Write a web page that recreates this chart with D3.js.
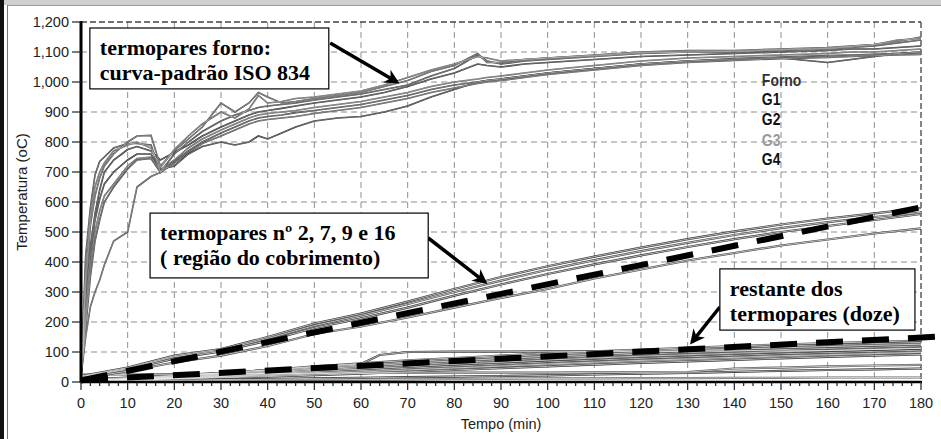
<!DOCTYPE html>
<html>
<head>
<meta charset="utf-8">
<script src="https://cdn.jsdelivr.net/npm/d3@7"></script>
<style>
body { margin: 0; background: #fff; }
svg { display: block; }
</style>
</head>
<body>
<script>
// tempos (min) e temperaturas (oC)
const tF = [0, 1, 2, 3, 4, 5, 7, 10, 12, 15, 17, 20, 23, 26, 30, 33, 36, 38, 40, 43, 46, 50, 55, 60, 65, 70, 75, 80, 85, 87, 90, 95, 100, 110, 120, 130, 140, 150, 160, 165, 170, 175, 180];
const forno = [
  [20, 420, 580, 690, 735, 750, 780, 795, 795, 790, 700, 760, 800, 835, 870, 890, 905, 915, 920, 925, 930, 940, 950, 960, 975, 990, 1020, 1045, 1090, 1070, 1060, 1070, 1075, 1085, 1095, 1100, 1100, 1105, 1110, 1115, 1120, 1130, 1140],
  [20, 300, 520, 620, 680, 720, 760, 800, 820, 822, 720, 770, 810, 850, 930, 900, 930, 965, 950, 930, 935, 945, 955, 965, 985, 1005, 1035, 1055, 1095, 1065, 1065, 1075, 1080, 1090, 1100, 1105, 1105, 1110, 1115, 1120, 1125, 1135, 1150],
  [20, 250, 450, 560, 640, 700, 740, 775, 785, 770, 740, 765, 790, 820, 850, 870, 890, 900, 905, 912, 920, 930, 940, 950, 965, 985, 1010, 1030, 1060, 1055, 1050, 1060, 1065, 1075, 1085, 1090, 1095, 1100, 1105, 1110, 1110, 1115, 1120],
  [20, 200, 380, 500, 570, 620, 660, 720, 745, 750, 705, 740, 780, 810, 840, 860, 880, 890, 895, 900, 905, 915, 925, 935, 950, 965, 985, 1000, 1010, 1015, 1020, 1030, 1040, 1055, 1070, 1080, 1085, 1090, 1095, 1100, 1100, 1105, 1110],
  [20, 180, 350, 470, 540, 600, 650, 710, 740, 745, 700, 735, 770, 800, 830, 850, 870, 880, 885, 890, 898, 905, 915, 925, 940, 955, 975, 990, 1000, 1005, 1010, 1020, 1030, 1045, 1060, 1070, 1078, 1083, 1088, 1090, 1092, 1095, 1098],
  [20, 150, 250, 300, 340, 390, 470, 500, 650, 685, 698, 730, 765, 795, 820, 840, 860, 870, 875, 880, 885, 895, 905, 915, 930, 945, 965, 980, 995, 1000, 1005, 1015, 1025, 1040, 1055, 1065, 1072, 1078, 1082, 1085, 1088, 1090, 1092],
  [20, 220, 420, 540, 610, 660, 700, 740, 760, 760, 710, 720, 760, 785, 800, 790, 800, 820, 810, 830, 850, 870, 880, 885, 900, 920, 950, 975, 1000, 1005, 1010, 1020, 1030, 1045, 1060, 1070, 1075, 1080, 1065, 1075, 1085, 1095, 1100],
  [20, 350, 550, 650, 700, 730, 770, 790, 800, 780, 715, 775, 820, 860, 900, 880, 910, 955, 930, 935, 945, 950, 960, 970, 990, 1015, 1040, 1060, 1085, 1080, 1070, 1075, 1080, 1088, 1098, 1100, 1102, 1108, 1112, 1118, 1125, 1140, 1145]
];

const tM = [0, 10, 20, 30, 40, 50, 60, 70, 80, 90, 100, 110, 120, 130, 140, 150, 160, 170, 180];
const cobrimento = [
  [20, 48, 88, 110, 150, 195, 228, 268, 310, 350, 386, 418, 448, 476, 502, 525, 545, 562, 580],
  [18, 45, 84, 106, 145, 188, 222, 260, 300, 338, 374, 406, 436, 464, 490, 513, 533, 550, 565],
  [16, 42, 78, 102, 138, 180, 212, 248, 288, 325, 360, 392, 422, 450, 476, 500, 520, 540, 560],
  [12, 36, 65, 88, 120, 160, 185, 215, 248, 280, 310, 345, 375, 405, 430, 455, 475, 495, 512]
];

const tB = [0, 10, 20, 30, 40, 50, 60, 64, 70, 80, 90, 100, 110, 120, 130, 140, 150, 160, 170, 180];
const restante = [
  [8, 15, 22, 30, 40, 50, 60, 90, 100, 101, 101, 102, 102, 103, 103, 104, 104, 105, 108, 112],
  [5, 12, 20, 30, 40, 52, 62, 66, 72, 80, 88, 96, 102, 108, 114, 120, 125, 130, 134, 138],
  [5, 11, 18, 27, 37, 47, 57, 61, 67, 76, 84, 92, 98, 104, 110, 115, 120, 124, 128, 132],
  [4, 10, 16, 24, 33, 43, 52, 56, 62, 70, 78, 86, 92, 98, 104, 109, 114, 118, 122, 126],
  [4, 9, 15, 22, 30, 39, 48, 51, 57, 65, 72, 80, 87, 93, 98, 103, 108, 112, 116, 120],
  [3, 8, 13, 20, 27, 35, 43, 46, 51, 59, 66, 73, 80, 86, 91, 96, 101, 105, 109, 113],
  [3, 7, 12, 18, 24, 31, 38, 41, 46, 53, 60, 67, 73, 79, 84, 89, 94, 98, 102, 106],
  [3, 6, 11, 16, 21, 27, 33, 36, 40, 47, 53, 60, 66, 72, 77, 82, 87, 91, 95, 99],
  [3, 6, 10, 14, 18, 23, 28, 30, 34, 40, 46, 52, 58, 64, 69, 74, 79, 84, 88, 92],
  [25, 25, 26, 27, 28, 29, 30, 30, 30, 31, 31, 31, 32, 32, 33, 45, 48, 52, 55, 57],
  [2, 4, 6, 8, 10, 12, 14, 15, 16, 18, 20, 22, 25, 28, 30, 34, 37, 40, 42, 45],
  [2, 3, 4, 5, 6, 7, 8, 8, 9, 10, 11, 12, 12, 13, 13, 14, 14, 15, 15, 15]
];

// retas tracejadas de ajuste [tempo, temperatura]
const tracejadas = [
  [[0, 5], [183, 592]],
  [[0, 7], [183.6, 151]]
];

const legenda = ["Forno", "G1", "G2", "G3", "G4"];
const legendaY = [987, 923, 857, 787, 723];

// caixas de texto: [t0, t1, temp topo, temp base], linhas, seta [t, temp] -> [t, temp]
const caixas = [
  { box: [1.9, 53.1, 1180, 977], linhas: ["termopares forno:", "curva-padrão ISO 834"], seta: [[53.4, 1130], [67.7, 1000]] },
  { box: [14.8, 74.4, 563, 347], linhas: ["termopares nº 2, 7, 9 e 16", "( região do cobrimento)"], seta: [[74.4, 480], [86.6, 333]] },
  { box: [136.9, 178.7, 377, 173], linhas: ["restante dos", "termopares (doze)"], seta: [[136.9, 250], [130.9, 133]] }
];

const xTicks = d3.range(0, 181, 10);
const yTicks = d3.range(0, 1201, 100);

const width = 941, height = 439;
const x = d3.scaleLinear().domain([0, 180]).range([81, 921]);
const y = d3.scaleLinear().domain([0, 1200]).range([382, 22]);

const svg = d3.select("body").append("svg")
    .attr("width", width)
    .attr("height", height)
    .style("font-family", "'Liberation Sans', Arial, sans-serif");

// moldura da janela
svg.append("rect").attr("x", 0).attr("y", 0).attr("width", width).attr("height", 5).attr("fill", "#cfcfcf");
svg.append("line").attr("x1", 7).attr("x2", width).attr("y1", 5.5).attr("y2", 5.5).attr("stroke", "#9a9a9a");
svg.append("rect").attr("x", 0).attr("y", 0).attr("width", 4).attr("height", height).attr("fill", "#111");
svg.append("line").attr("x1", 7.5).attr("x2", 7.5).attr("y1", 5).attr("y2", height).attr("stroke", "#777");

// grade
const grid = svg.append("g").attr("stroke", "#8f8f8f").attr("stroke-dasharray", "6,4");
grid.selectAll(".gx").data(xTicks.filter(d => d > 0 && d < 180)).enter().append("line")
    .attr("x1", d => x(d)).attr("x2", d => x(d)).attr("y1", y(1200)).attr("y2", y(0));
grid.selectAll(".gy").data(yTicks.filter(d => d > 0 && d < 1200)).enter().append("line")
    .attr("x1", x(0)).attr("x2", x(180)).attr("y1", d => y(d)).attr("y2", d => y(d));

svg.append("g").attr("stroke", "#444").attr("stroke-width", 1.3).attr("stroke-dasharray", "6,3")
  .call(g => {
    g.append("line").attr("x1", x(0)).attr("x2", x(180)).attr("y1", y(1200)).attr("y2", y(1200));
    g.append("line").attr("x1", x(180)).attr("x2", x(180)).attr("y1", y(1200)).attr("y2", y(0));
  });

const line = d3.line().x(d => x(d[0])).y(d => y(d[1]));
const series = (ts, rows) => rows.map(r => r.map((v, i) => [ts[i], v]));

function drawGroup(data, outer, inner) {
  const g = svg.append("g").attr("fill", "none");
  g.selectAll(".o").data(data).enter().append("path")
      .attr("d", line)
      .attr("stroke", (d, i) => outer.color[i % outer.color.length])
      .attr("stroke-width", outer.width);
  g.selectAll(".i").data(data).enter().append("path")
      .attr("d", line)
      .attr("stroke", inner.color)
      .attr("stroke-width", inner.width);
}

drawGroup(series(tB, restante), { color: ["#333", "#555", "#222", "#666"], width: 2.2 }, { color: "#f2f2f2", width: 0.7 });
drawGroup(series(tM, cobrimento), { color: ["#333", "#444"], width: 2.2 }, { color: "#f4f4f4", width: 0.7 });
drawGroup(series(tF, forno), { color: ["#333", "#444", "#222", "#555"], width: 1.6 }, { color: "#e8e8e8", width: 0.4 });

// retas tracejadas
svg.append("g").selectAll("path").data(tracejadas).enter().append("path")
    .attr("d", line)
    .attr("fill", "none")
    .attr("stroke", "#000")
    .attr("stroke-width", 6)
    .attr("stroke-dasharray", "27,19");

// eixos
const axes = svg.append("g");
axes.append("line").attr("x1", x(0)).attr("x2", x(0)).attr("y1", y(1200) - 1).attr("y2", y(0) + 1)
    .attr("stroke", "#000").attr("stroke-width", 3);
axes.append("line").attr("x1", x(0) - 1).attr("x2", x(180) + 1).attr("y1", y(0)).attr("y2", y(0))
    .attr("stroke", "#000").attr("stroke-width", 2.5);

axes.selectAll(".ty").data(yTicks).enter().append("line")
    .attr("x1", x(0) - 9).attr("x2", x(0)).attr("y1", d => y(d)).attr("y2", d => y(d))
    .attr("stroke", "#222").attr("stroke-width", 1.2);
axes.selectAll(".tyl").data(yTicks).enter().append("text")
    .attr("x", x(0) - 12).attr("y", d => y(d)).attr("dy", "0.36em")
    .attr("text-anchor", "end").attr("font-size", 14.5).attr("fill", "#222")
    .text(d3.format(","));

axes.selectAll(".tx").data(d3.range(0, 181, 2)).enter().append("line")
    .attr("x1", d => x(d)).attr("x2", d => x(d))
    .attr("y1", y(0)).attr("y2", d => y(0) + (d % 10 === 0 ? 8 : 4))
    .attr("stroke", "#222").attr("stroke-width", 1.2);
axes.selectAll(".txl").data(xTicks).enter().append("text")
    .attr("x", d => x(d)).attr("y", 408)
    .attr("text-anchor", "middle").attr("font-size", 14.5).attr("fill", "#222")
    .text(d => d);

svg.append("text")
    .attr("x", (x(0) + x(180)) / 2).attr("y", 429)
    .attr("text-anchor", "middle").attr("font-size", 14.5).attr("fill", "#222")
    .text("Tempo (min)");
svg.append("text")
    .attr("transform", `translate(27,${(y(0) + y(1200)) / 2 - 10}) rotate(-90)`)
    .attr("text-anchor", "middle").attr("font-size", 15).attr("fill", "#222")
    .text("Temperatura (oC)");

// legenda do software
svg.append("g").selectAll("text").data(legenda).enter().append("text")
    .attr("transform", (d, i) => `translate(${x(145.9)},${y(legendaY[i])}) scale(0.9,1.12)`)
    .attr("font-weight", "bold").attr("font-size", 15.5)
    .attr("fill", (d, i) => i === 3 ? "#9a9a9a" : (i === 0 ? "#333" : "#111"))
    .text(d => d);

// setas e caixas
svg.append("defs").append("marker")
    .attr("id", "seta").attr("viewBox", "0 0 10 10")
    .attr("refX", 8).attr("refY", 5)
    .attr("markerWidth", 4.2).attr("markerHeight", 4.2)
    .attr("orient", "auto")
  .append("path").attr("d", "M0,0L10,5L0,10L3,5Z").attr("fill", "#000");

const ann = svg.append("g");
ann.selectAll("line").data(caixas).enter().append("line")
    .attr("x1", d => x(d.seta[0][0])).attr("y1", d => y(d.seta[0][1]))
    .attr("x2", d => x(d.seta[1][0])).attr("y2", d => y(d.seta[1][1]))
    .attr("stroke", "#000").attr("stroke-width", 3.5)
    .attr("marker-end", "url(#seta)");

const box = ann.selectAll("g").data(caixas).enter().append("g");
box.append("rect")
    .attr("x", d => x(d.box[0])).attr("y", d => y(d.box[2]))
    .attr("width", d => x(d.box[1]) - x(d.box[0]))
    .attr("height", d => y(d.box[3]) - y(d.box[2]))
    .attr("fill", "#fff").attr("stroke", "#000").attr("stroke-width", 1.2);
box.selectAll("text").data(d => d.linhas.map((t, i) => ({ t, i, d }))).enter().append("text")
    .attr("x", e => x(e.d.box[0]) + 10)
    .attr("y", e => y(e.d.box[2]) + 27 + e.i * 25)
    .attr("font-family", "'Liberation Serif', 'Times New Roman', serif")
    .attr("font-weight", "bold").attr("font-size", 22).attr("fill", "#000")
    .text(e => e.t);
</script>
</body>
</html>
